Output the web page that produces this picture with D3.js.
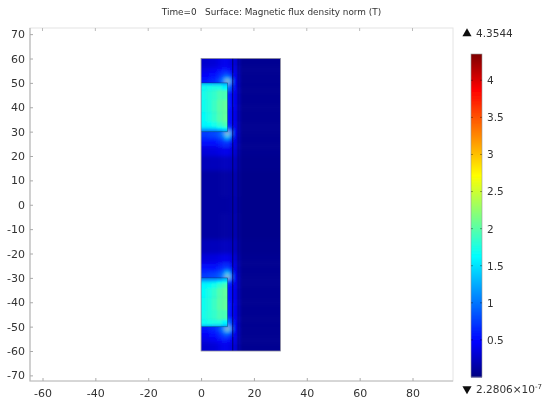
<!DOCTYPE html>
<html>
<head>
<meta charset="utf-8">
<script src="https://cdnjs.cloudflare.com/ajax/libs/d3/7.8.5/d3.min.js"></script>
<style>
  html, body { margin: 0; background: #fff; }
  text { font-family: "DejaVu Sans", sans-serif; fill: #333; }
</style>
</head>
<body>
<svg id="chart" width="547" height="403"></svg>
<script>
const titleText = "Time=0   Surface: Magnetic flux density norm (T)"
const xTicks = [-60, -40, -20, 0, 20, 40, 60, 80]
const yTicks = [70, 60, 50, 40, 30, 20, 10, 0, -10, -20, -30, -40, -50, -60, -70]
const barTicks = [0.5, 1, 1.5, 2, 2.5, 3, 3.5, 4]
const barMax = 4.3544
const barMaxLabel = "4.3544"
const barMinLabel = "2.2806×10"
const barMinExp = "-7"

// jet colormap stops, as fractions of the range
const jetStops = [0, 0.11, 0.375, 0.625, 0.89, 1]
const jetColors = ["#00007f", "#0000ff", "#00ffff", "#ffff00", "#ff0000", "#7f0000"]

// field |B|, upper half (lower half is its mirror)
const fieldXEdges = [0, 3, 6, 8, 9.5, 10.5, 11.5, 12, 14, 30]
const fieldYEdges = [60, 56, 54, 52, 51, 50, 47, 40, 33, 31, 30, 29, 27, 24, 20, 14, 0]
const fieldValues = [
  [0.3, 0.33, 0.38, 0.42, 0.42, 0.38, 0.34, 0.34, 0.07],
  [0.38, 0.44, 0.52, 0.58, 0.58, 0.5, 0.4, 0.38, 0.07],
  [0.46, 0.54, 0.66, 0.8, 0.88, 0.68, 0.48, 0.42, 0.07],
  [0.55, 0.62, 0.78, 1.1, 1.7, 1.0, 0.52, 0.44, 0.07],
  [0.6, 0.68, 0.85, 1.3, 3.2, 1.6, 0.55, 0.45, 0.07],
  [0.6, 0.65, 0.75, 0.9, 1.2, 0.85, 0.55, 0.44, 0.07],
  [0.6, 0.65, 0.7, 0.75, 0.62, 0.58, 0.52, 0.42, 0.07],
  [0.6, 0.65, 0.7, 0.75, 0.55, 0.55, 0.5, 0.4, 0.07],
  [0.6, 0.65, 0.7, 0.75, 0.62, 0.6, 0.52, 0.42, 0.07],
  [0.65, 0.7, 0.8, 0.9, 1.2, 0.9, 0.55, 0.44, 0.07],
  [0.8, 0.85, 0.95, 1.3, 3.2, 1.6, 0.55, 0.45, 0.07],
  [0.7, 0.75, 0.85, 1.05, 1.7, 0.95, 0.5, 0.42, 0.07],
  [0.52, 0.55, 0.6, 0.68, 0.75, 0.58, 0.4, 0.38, 0.07],
  [0.34, 0.36, 0.38, 0.4, 0.42, 0.38, 0.32, 0.32, 0.07],
  [0.22, 0.23, 0.23, 0.24, 0.24, 0.24, 0.22, 0.25, 0.06],
  [0.13, 0.13, 0.13, 0.14, 0.14, 0.14, 0.15, 0.2, 0.05]
]

// magnet |B|, upper magnet x 0..10, y 30..50
const magnetXEdges = [0, 2, 4, 6, 8, 10]
const magnetYEdges = [50, 49, 47, 43, 38, 34, 32, 31, 30]
const magnetValues = [
  [1.35, 1.35, 1.3, 1.3, 1.25],
  [1.68, 1.72, 1.75, 1.75, 1.6],
  [1.72, 1.8, 1.85, 1.95, 1.95],
  [1.7, 1.78, 1.88, 2.0, 2.05],
  [1.66, 1.75, 1.85, 1.98, 2.05],
  [1.6, 1.66, 1.72, 1.85, 1.95],
  [1.45, 1.45, 1.5, 1.6, 1.7],
  [1.1, 1.1, 1.1, 1.15, 1.3]
]

const innerLines = [12, 14]

const svg = d3.select("#chart")
const frame = { left: 30, right: 453, top: 28, bottom: 381 }
const gridBleed = 8 // outer cells run past the clip so the blur has no pale rim

const x = d3.scaleLinear().domain([-60, 80]).range([42.5, 412.5])
const y = d3.scaleLinear().domain([60, -60]).range([58.5, 351])
const color = d3.scaleLinear()
  .domain(jetStops.map(d => d * barMax))
  .range(jetColors)

const defs = svg.append("defs")
const addBlur = (id, sd) => {
  defs.append("filter").attr("id", id)
    .attr("filterUnits", "userSpaceOnUse")
    .attr("x", 0).attr("y", 0).attr("width", 547).attr("height", 403)
    .append("feGaussianBlur").attr("stdDeviation", sd)
}
addBlur("soft", 2.0)
addBlur("soft-small", 1.2)
addBlur("print", 0.35)

const clipRect = (id, x0, x1, y0, y1) => {
  defs.append("clipPath").attr("id", id).append("rect")
    .attr("x", x(x0)).attr("width", x(x1) - x(x0))
    .attr("y", y(y0)).attr("height", y(y1) - y(y0))
}
clipRect("clip-field", 0, 30, 60, -60)
clipRect("clip-magnet-top", 0, 10, 50, 30)
clipRect("clip-magnet-bottom", 0, 10, -30, -50)

// frame
const root = svg.append("g").attr("filter", "url(#print)")
root.append("rect")
  .attr("x", frame.left).attr("y", frame.top)
  .attr("width", frame.right - frame.left).attr("height", frame.bottom - frame.top)
  .attr("fill", "none").attr("stroke", "#e4e4e4")
root.append("path")
  .attr("d", `M${frame.left},${frame.top}V${frame.bottom}H${frame.right}`)
  .attr("fill", "none").attr("stroke", "#bbb").attr("stroke-width", 1.2)

// draws one value grid, sign = 1 upper half, -1 lower half
function drawGrid(parent, xEdges, yEdges, values, sign) {
  values.forEach((row, j) => {
    row.forEach((v, i) => {
      const ya = y(sign * yEdges[j])
      const yb = y(sign * yEdges[j + 1])
      let top = Math.min(ya, yb)
      let bottom = Math.max(ya, yb) + 0.5
      let left = x(xEdges[i])
      let right = x(xEdges[i + 1]) + 0.5
      if (i === 0) left -= gridBleed
      if (i === row.length - 1) right += gridBleed
      if (j === 0 && sign === 1) top -= gridBleed
      if (j === 0 && sign === -1) bottom += gridBleed
      if (j === values.length - 1 && sign === 1) bottom += gridBleed
      if (j === values.length - 1 && sign === -1) top -= gridBleed
      parent.append("rect")
        .attr("x", left).attr("width", right - left)
        .attr("y", top).attr("height", bottom - top)
        .attr("fill", color(v))
    })
  })
}

// field surface
const fieldClip = root.append("g").attr("clip-path", "url(#clip-field)")
const fieldGroup = fieldClip.append("g").attr("filter", "url(#soft)")
drawGrid(fieldGroup, fieldXEdges, fieldYEdges, fieldValues, -1)
drawGrid(fieldGroup, fieldXEdges, fieldYEdges, fieldValues, 1)

// magnets
const magTop = root.append("g").attr("clip-path", "url(#clip-magnet-top)")
  .append("g").attr("filter", "url(#soft-small)")
drawGrid(magTop, magnetXEdges, magnetYEdges, magnetValues, 1)
const magBottom = root.append("g").attr("clip-path", "url(#clip-magnet-bottom)")
  .append("g").attr("filter", "url(#soft-small)")
drawGrid(magBottom, magnetXEdges, magnetYEdges, magnetValues, -1)

// magnet outlines, open towards the symmetry axis
for (const s of [1, -1]) {
  root.append("path")
    .attr("d", `M${x(0)},${y(s * 50)}H${x(10)}V${y(s * 30)}H${x(0)}`)
    .attr("fill", "none").attr("stroke", "#003a5a")
    .attr("stroke-opacity", 0.55).attr("stroke-width", 0.8)
}

// region boundaries
root.selectAll("line.inner").data(innerLines).join("line")
  .attr("class", "inner")
  .attr("x1", d => x(d)).attr("x2", d => x(d))
  .attr("y1", y(60)).attr("y2", y(-60))
  .attr("stroke", "#00005a")
  .attr("stroke-width", (d, i) => i === 0 ? 0.9 : 0.4)
root.append("rect")
  .attr("x", x(0)).attr("y", y(60))
  .attr("width", x(30) - x(0)).attr("height", y(-60) - y(60))
  .attr("fill", "none").attr("stroke", "#8a8a9a").attr("stroke-width", 0.8)

// axes
const xAxis = d3.axisBottom(x).tickValues(xTicks).tickSize(-3).tickPadding(8)
  .tickFormat(d => String(d))
const yAxis = d3.axisLeft(y).tickValues(yTicks).tickSize(-3).tickPadding(5)
  .tickFormat(d => String(d))
const gx = root.append("g").attr("transform", `translate(0,${frame.bottom})`).call(xAxis)
const gy = root.append("g").attr("transform", `translate(${frame.left},0)`).call(yAxis)
for (const g of [gx, gy]) {
  g.select(".domain").remove()
  g.selectAll(".tick line").attr("stroke", "#aaa")
  g.selectAll("text").attr("font-size", 11).style("fill", "#333")
}
// small ticks along the top edge
root.selectAll("line.top-tick").data(xTicks).join("line")
  .attr("class", "top-tick")
  .attr("x1", d => x(d)).attr("x2", d => x(d))
  .attr("y1", frame.top).attr("y2", frame.top + 3)
  .attr("stroke", "#bbb")

// title
root.append("text").attr("x", 271.5).attr("y", 15)
  .attr("text-anchor", "middle").attr("font-size", 8.9)
  .style("white-space", "pre")
  .text(titleText)

// colour bar
const barX = 471
const barW = 11
const barScale = d3.scaleLinear().domain([0, barMax]).range([377, 54])
const barSteps = d3.range(0, 323)
root.selectAll("rect.bar").data(barSteps).join("rect")
  .attr("class", "bar")
  .attr("x", barX).attr("width", barW)
  .attr("y", d => 54 + d).attr("height", 1.5)
  .attr("fill", d => color(barScale.invert(54 + d)))
root.append("rect")
  .attr("x", barX).attr("y", 54).attr("width", barW).attr("height", 323)
  .attr("fill", "none").attr("stroke", "#999").attr("stroke-width", 0.6)

const barAxis = d3.axisRight(barScale).tickValues(barTicks).tickSize(0).tickPadding(5)
  .tickFormat(d => d)
const gb = root.append("g").attr("transform", `translate(${barX + barW},0)`).call(barAxis)
gb.select(".domain").remove()
gb.selectAll("text").attr("font-size", 10.5).style("fill", "#333")
root.selectAll("line.bar-tick").data(barTicks).join("line")
  .attr("class", "bar-tick")
  .attr("x1", barX).attr("x2", barX + barW)
  .attr("y1", d => barScale(d)).attr("y2", d => barScale(d))
  .attr("stroke", "#000").attr("stroke-opacity", 0.35)
  .attr("stroke-dasharray", "2 7")

// max and min markers
root.append("path")
  .attr("d", d3.symbol(d3.symbolTriangle, 36)())
  .attr("transform", "translate(467,33.5)").attr("fill", "#111")
root.append("text").attr("x", 476).attr("y", 37)
  .attr("font-size", 10.5).text(barMaxLabel)
root.append("path")
  .attr("d", d3.symbol(d3.symbolTriangle, 36)())
  .attr("transform", "translate(467,389) rotate(180)").attr("fill", "#111")
const minLabel = root.append("text").attr("x", 476).attr("y", 393).attr("font-size", 10.5)
minLabel.append("tspan").text(barMinLabel)
minLabel.append("tspan").attr("dy", -4).attr("font-size", 7).text(barMinExp)
</script>
</body>
</html>
